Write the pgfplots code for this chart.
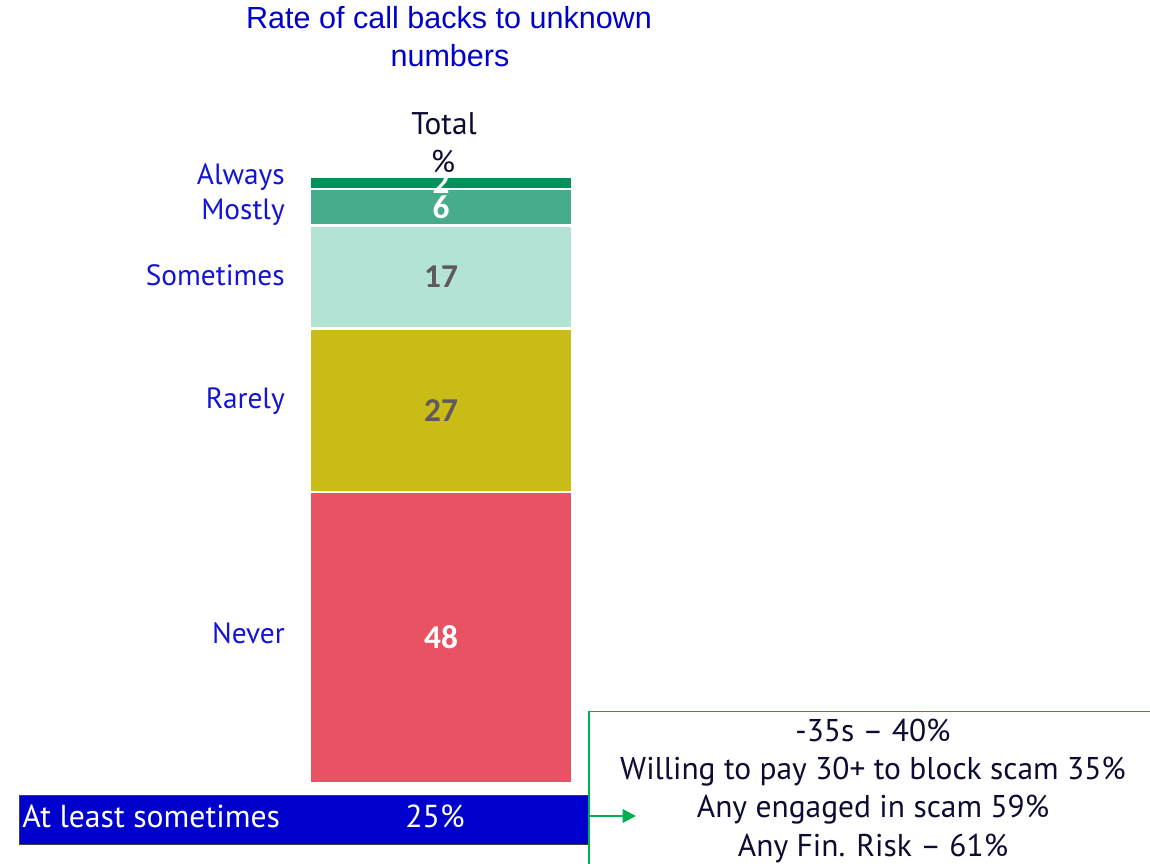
\documentclass[border=0pt]{standalone}
\usepackage{pgfplots}
\pgfplotsset{compat=1.18}
\usepackage{fontspec}
\setmainfont{PT Sans}
\newfontfamily\titlefont{Liberation Sans}
\newfontfamily\valfont{Carlito}
\usetikzlibrary{arrows.meta}
\definecolor{titleblue}{RGB}{0,0,200}
\definecolor{catblue}{RGB}{20,20,210}
\definecolor{boxblue}{RGB}{0,0,204}
\definecolor{navy}{RGB}{12,12,50}
\definecolor{cNever}{RGB}{232,82,98}
\definecolor{cRarely}{RGB}{202,188,23}
\definecolor{cSometimes}{RGB}{179,227,212}
\definecolor{cMostly}{RGB}{70,172,139}
\definecolor{cAlways}{RGB}{0,146,90}
\definecolor{valgray}{RGB}{96,88,96}
\definecolor{gline}{RGB}{0,176,80}
\begin{document}
\begin{tikzpicture}
\begin{scope}[x=0.75pt,y=0.75pt]
\useasboundingbox (0,0) rectangle (1150,864);
% title
\node[anchor=base,text=titleblue,font=\titlefont\fontsize{22.9}{27}\selectfont] at (449,835) {Rate of call backs to unknown};
\node[anchor=base,text=titleblue,font=\titlefont\fontsize{22.9}{27}\selectfont] at (450,797) {numbers};
\node[anchor=base,text=navy,font=\fontsize{23.5}{28}\selectfont] at (444,729) {Total};
\node[anchor=base,text=navy,font=\fontsize{23.5}{28}\selectfont] at (443,691) {\%};
% bottom blue box
\draw[fill=boxblue,draw=black!75,line width=0.6pt] (19.5,20) rectangle (588,68.3);
\node[anchor=base west,text=white,font=\fontsize{23.8}{28}\selectfont,inner sep=0pt] at (22,36) {At least sometimes};
\node[anchor=base,text=white,font=\fontsize{23.8}{28}\selectfont] at (435,36) {25\%};
% green box
\draw[gline,line width=1pt] (589,-10) -- (589,152.3) -- (1170,152.3);
\draw[gline,line width=1.8pt,-{Triangle[length=10pt,width=10pt]}] (589,48) -- (636,48);
\foreach \t/\yb in {{-35s -- 40\%}/122,{Willing to pay 30+ to block scam 35\%}/84,{Any engaged in scam 59\%}/46,{Any Fin. Risk -- 61\%}/7}
  \node[anchor=base,text=navy,font=\fontsize{23.6}{28}\selectfont] at (873,\yb) {\t};
\end{scope}
\begin{axis}[
  at={(232.5pt,60.75pt)}, anchor=south west,
  scale only axis, width=196.5pt, height=454.5pt,
  xmin=-0.5, xmax=0.5, ymin=0, ymax=100,
  ybar stacked, bar width=196.5pt,
  axis line style={draw=none},
  xtick=\empty,
  ytick={24.75,63.0,83.8,94.2,100},
  yticklabels={Never,Rarely,Sometimes,Mostly,\raisebox{3pt}{Always}},
  major tick length=0pt,
  yticklabel style={text=catblue,font=\fontsize{22}{26}\selectfont,anchor=east,inner sep=0pt,xshift=-18.75pt},
  clip=false,
  point meta=explicit symbolic,
  nodes near coords,
  every node near coord/.append style={anchor=center,font=\valfont\bfseries\fontsize{25}{30}\selectfont},
]
\addplot[fill=cNever,draw=white,line width=1.6pt,
  every node near coord/.append style={text=white}] coordinates {(0,48)[48]};
\addplot[fill=cRarely,draw=white,line width=1.6pt,
  every node near coord/.append style={text=valgray}] coordinates {(0,27)[27]};
\addplot[fill=cSometimes,draw=white,line width=1.6pt,
  every node near coord/.append style={text=valgray}] coordinates {(0,17)[17]};
\addplot[fill=cMostly,draw=white,line width=1.6pt,
  every node near coord/.append style={text=white}] coordinates {(0,6)[6]};
\addplot[fill=cAlways,draw=white,line width=1.6pt,
  every node near coord/.append style={text=white}] coordinates {(0,2)[2]};
\end{axis}
\end{tikzpicture}
\end{document}
